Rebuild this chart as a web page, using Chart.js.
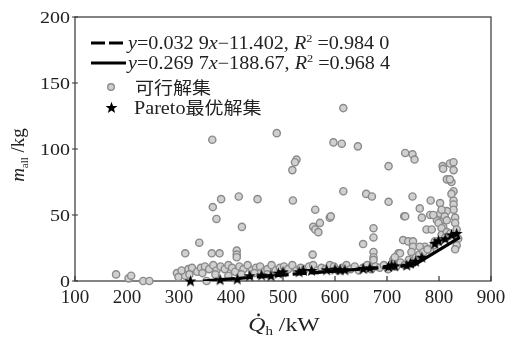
<!DOCTYPE html>
<html>
<head>
<meta charset="utf-8">
<script src="https://cdn.jsdelivr.net/npm/chart.js@4"></script>
<style>
html, body { margin: 0; padding: 0; background: #fff; }
#wrap { width: 507px; height: 337px; }
</style>
</head>
<body>
<div id="wrap"><canvas id="myChart"></canvas></div>
<script>
// feasible solutions [Qh kW, m_all kg]
const feasible = [
    [364,107],[616,131],[488,112],[597,105],[613,104],[644,102],[735,97],[749,96],[753,92],
    [703,87],[807,87],[821,89],[828,90],[526,92],[523,90],[518,84],[381,62],[415,64],[451,62],
    [519,61],[365,56],[562,54],[808,85],[828,84],[815,77],[824,75],[616,68],[660,66],[671,64],
    [703,60],[749,64],[784,61],[802,59],[828,68],[828,61],[828,58],[763,55],[571,44],[590,48],
    [558,41],[562,39],[568,37],[557,20],[674,40],[674,33],[654,28],[674,22],[674,18],[674,16],
    [733,49],[731,31],[741,30],[750,30],[722,21],[712,16],[750,26],[747,22],[767,48],[783,50],
    [776,39],[786,39],[802,51],[805,45],[808,41],[792,30],[773,26],[821,77],[824,66],[828,54],
    [831,48],[831,44],[834,39],[837,32],[834,27],[831,24],[815,53],[811,49],[815,46],[805,54],
    [796,46],[799,44],[805,40],[805,35],[815,37],[818,34],[372,47],[421,41],[339,29],[312,21],
    [363,21],[378,21],[411,23],[411,20],[411,18],[179,5],[203,2],[208,4],[231,0],[243,0],
    [296,6],[299,3],[312,4],[353,0],[592,49],[735,49],[789,50],[763,26],[783,23],[725,21],[715,18],
    [305,8],[318,9],[325,10],[335,7],[342,10],[350,11],[358,9],[366,12],[372,8],[380,11],
    [388,9],[395,12],[402,10],[408,7],[416,11],[424,9],[432,12],[440,8],[448,10],[456,11],
    [463,7],[470,9],[478,12],[486,8],[494,10],[502,11],[510,9],[518,12],[526,8],[534,10],
    [542,9],[550,11],[558,12],[566,8],[574,10],[582,9],[590,12],[598,11],[606,8],[614,10],
    [622,12],[630,9],[638,11],[646,8],[654,10],[662,12],[670,9],[678,11],[686,10],[694,12],
    [702,9],[710,13],[718,11],[726,14],[734,12],[742,16],[748,13],[756,18],[762,20],[770,22],
    [778,24],[790,27],[800,30],[812,33],[822,36],
    [320,5],[345,6],[370,5],[395,4],[420,5],[445,6],[470,5]
];

// pareto optimal set
const paretoX = [322, 379, 412, 436, 459, 477, 491, 500, 531, 539, 555, 584, 600, 610, 619,
    654, 667, 703, 709, 715, 738, 745, 755, 767, 792, 799, 812, 824, 834];
const paretoY = [0, 1, 1.5, 4, 4.5, 4, 6, 7, 7, 8, 8, 8.5, 9, 8.5, 8.5,
    9.5, 10, 11, 12, 11.5, 12, 13.5, 15, 18, 28.5, 30.5, 32, 35, 36];

// fitted lines
const dashX = [346, 752];
const dashY = [0, 12];
const solidX = [752, 840];
const solidY = [12, 33];

const xTicks = [100, 200, 300, 400, 500, 600, 700, 800, 900];
const yTicks = [0, 50, 100, 150, 200];

const SERIF = '"Liberation Serif", "Times New Roman", "Noto Sans CJK SC", serif';

// filled star marker
const star = document.createElement('canvas');
star.width = 13; star.height = 13;
(function () {
    const c = star.getContext('2d');
    c.fillStyle = '#000';
    c.beginPath();
    for (let i = 0; i < 10; i++) {
        const r = i % 2 === 0 ? 6.2 : 2.6;
        const a = -Math.PI / 2 + i * Math.PI / 5;
        const px = 6.5 + r * Math.cos(a), py = 7 + r * Math.sin(a);
        if (i === 0) c.moveTo(px, py); else c.lineTo(px, py);
    }
    c.closePath();
    c.fill();
})();

function rich(ctx, parts, x, y, sx, align) {
    let w = 0;
    parts.forEach(p => { ctx.font = p.f; w += ctx.measureText(p.t).width; });
    ctx.save();
    ctx.translate(x, y);
    ctx.scale(sx, 1);
    let cx = align === 'center' ? -w / 2 : (align === 'right' ? -w : 0);
    const pos = [];
    parts.forEach(p => {
        ctx.font = p.f;
        ctx.fillText(p.t, cx, p.dy || 0);
        const pw = ctx.measureText(p.t).width;
        pos.push([cx * sx + x, pw * sx]);
        cx += pw;
    });
    ctx.restore();
    return pos;
}

const decor = {
    id: 'decor',
    beforeDatasetsDraw(chart) {
        const { ctx, chartArea: a, scales } = chart;
        ctx.save();
        ctx.strokeStyle = '#333';
        ctx.lineWidth = 1.2;
        ctx.strokeRect(a.left, a.top, a.right - a.left, a.bottom - a.top);
        ctx.beginPath();
        xTicks.forEach(v => {
            const px = scales.x.getPixelForValue(v);
            ctx.moveTo(px, a.bottom); ctx.lineTo(px, a.bottom - 5);
        });
        yTicks.forEach(v => {
            const py = scales.y.getPixelForValue(v);
            ctx.moveTo(a.left - 3, py); ctx.lineTo(a.left + 3, py);
        });
        ctx.stroke();
        ctx.restore();
    },
    afterDraw(chart) {
        const { ctx, chartArea: a, scales } = chart;
        ctx.save();
        ctx.fillStyle = '#222';
        ctx.textBaseline = 'alphabetic';
        // tick labels
        xTicks.forEach(v => {
            rich(ctx, [{ t: String(v), f: '19px ' + SERIF }], scales.x.getPixelForValue(v), 303, 1, 'center');
        });
        yTicks.forEach(v => {
            rich(ctx, [{ t: String(v), f: '16px ' + SERIF }], a.left - 5, scales.y.getPixelForValue(v) + 5.5, 1.25, 'right');
        });
        // x title
        const pos = rich(ctx, [
            { t: 'Q', f: 'italic 19px ' + SERIF },
            { t: 'h', f: '12px ' + SERIF, dy: 4 },
            { t: ' /kW', f: '19px ' + SERIF }
        ], 284, 331, 1.25, 'center');
        ctx.beginPath();
        ctx.arc(pos[0][0] + pos[0][1] * 0.6, 315, 1.4, 0, Math.PI * 2);
        ctx.fill();
        // y title
        ctx.save();
        ctx.translate(24, 155);
        ctx.rotate(-Math.PI / 2);
        rich(ctx, [
            { t: 'm', f: 'italic 19px ' + SERIF },
            { t: 'all', f: '11px ' + SERIF, dy: 4 },
            { t: ' /kg', f: '19px ' + SERIF }
        ], 0, 0, 1, 'center');
        ctx.restore();

        // legend
        ctx.strokeStyle = '#000';
        ctx.lineWidth = 3.2;
        ctx.setLineDash([14, 4]);
        ctx.beginPath(); ctx.moveTo(91, 43); ctx.lineTo(126, 43); ctx.stroke();
        ctx.setLineDash([]);
        ctx.beginPath(); ctx.moveTo(91, 63); ctx.lineTo(126, 63); ctx.stroke();
        ctx.fillStyle = '#222';
        const eq = (a1, a2, r1, r2) => [
            { t: 'y', f: 'italic 18px ' + SERIF },
            { t: '=' + a1, f: '18px ' + SERIF },
            { t: 'x', f: 'italic 18px ' + SERIF },
            { t: a2 + ', ', f: '18px ' + SERIF },
            { t: 'R', f: 'italic 18px ' + SERIF },
            { t: '2', f: '11px ' + SERIF, dy: -7 },
            { t: ' =' + r1, f: '18px ' + SERIF }
        ];
        rich(ctx, eq('0.032 9', '\u221211.402', '0.984 0'), 128, 49, 1.12, 'left');
        rich(ctx, eq('0.269 7', '\u2212188.67', '0.968 4'), 128, 69, 1.12, 'left');
        ctx.fillStyle = '#d0d0d0';
        ctx.strokeStyle = '#8a8a8a';
        ctx.lineWidth = 1.4;
        ctx.beginPath(); ctx.arc(111, 87, 3.3, 0, Math.PI * 2); ctx.fill(); ctx.stroke();
        ctx.drawImage(star, 105, 101);
        ctx.fillStyle = '#222';
        rich(ctx, [{ t: '可行解集', f: '17px "Noto Sans CJK SC"' }], 135, 94, 1.12, 'left');
        rich(ctx, [{ t: 'Pareto', f: '18px ' + SERIF }, { t: '最优解集', f: '17px "Noto Sans CJK SC"' }], 134, 114, 1.12, 'left');
        ctx.restore();
    }
};

const ctx = document.getElementById('myChart').getContext('2d');

const myChart = new Chart(ctx, { //eslint-disable-line
    type: 'scatter',
    data: {
        datasets: [
            {
                label: 'Pareto最优解集',
                data: paretoX.map((x, i) => ({ x: x, y: paretoY[i] })),
                pointStyle: star,
                order: 0,
                clip: false
            },
            {
                label: 'fit1',
                type: 'line',
                data: dashX.map((x, i) => ({ x: x, y: dashY[i] })),
                borderColor: '#000',
                borderWidth: 3.2,
                borderDash: [14, 4],
                pointRadius: 0,
                order: 1
            },
            {
                label: 'fit2',
                type: 'line',
                data: solidX.map((x, i) => ({ x: x, y: solidY[i] })),
                borderColor: '#000',
                borderWidth: 3.2,
                pointRadius: 0,
                order: 1
            },
            {
                label: '可行解集',
                data: feasible.map(p => ({ x: p[0], y: p[1] })),
                backgroundColor: '#d0d0d0',
                borderColor: '#8a8a8a',
                borderWidth: 1.4,
                pointRadius: 3.6,
                order: 2,
                clip: false
            }
        ]
    },
    options: {
        responsive: true,
        maintainAspectRatio: false,
        animation: false,
        layout: { padding: { left: 75, right: 16, top: 17, bottom: 56 } },
        plugins: { legend: { display: false }, tooltip: { enabled: false } },
        scales: {
            x: { type: 'linear', display: false, min: 100, max: 900 },
            y: { type: 'linear', display: false, min: 0, max: 200 }
        }
    },
    plugins: [decor]
});
</script>
</body>
</html>
